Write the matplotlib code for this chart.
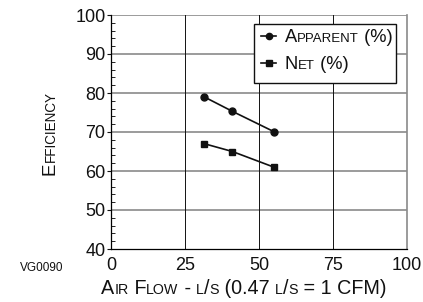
import matplotlib
matplotlib.use("Agg")
import matplotlib.pyplot as plt
from matplotlib.lines import Line2D
from matplotlib.patches import Rectangle

plt.rcParams['font.family'] = ['Liberation Sans', 'DejaVu Sans']

air_flow = [31.5, 41, 55]
apparent = [79, 75.3, 70.1]
net = [67, 65, 61]
x_ticks = [0, 25, 50, 75, 100]
y_ticks = [40, 50, 60, 70, 80, 90, 100]

W, H = 423, 302
fig = plt.figure(figsize=(W / 100, H / 100), dpi=100)
ax = fig.add_axes([111 / W, 1 - 249 / H, (407 - 111) / W, (249 - 15) / H])

ax.plot(air_flow, apparent, color='#111111', lw=1.2, marker='o', ms=5, zorder=3)
ax.plot(air_flow, net, color='#111111', lw=1.2, marker='s', ms=5, zorder=3)

ax.set_xlim(0, 100)
ax.set_ylim(40, 100)
ax.set_xticks(x_ticks)
ax.set_yticks(y_ticks)
ax.set_yticks(range(40, 101, 2), minor=True)
ax.tick_params(axis='both', labelsize=13, colors='#111111')
ax.tick_params(axis='x', length=0, pad=6)
ax.tick_params(axis='y', which='major', direction='out', length=3, pad=1)
ax.tick_params(axis='y', which='minor', direction='in', length=3, width=0.6)

for y in y_ticks[1:]:
    ax.axhline(y, color='#8a8a8a', lw=1.2, zorder=1)
for x in x_ticks[1:-1]:
    ax.axvline(x, color='#111111', lw=0.7, zorder=1)
ax.spines['top'].set_visible(False)
ax.spines['right'].set_color('#8a8a8a')
ax.spines['right'].set_linewidth(1.2)
ax.spines['left'].set_linewidth(0.9)
ax.spines['bottom'].set_linewidth(0.9)

fig.canvas.draw()
renderer = fig.canvas.get_renderer()


def smallcaps(s, x, y, size, ratio=0.72, rotation=0, ha='center', color='#111111'):
    runs = []
    for ch in s:
        small = ch.islower()
        c = ch.upper()
        if runs and runs[-1][1] == small:
            runs[-1][0] += c
        else:
            runs.append([c, small])
    texts = []
    for txt, small in runs:
        t = fig.text(0, 0, txt, fontsize=size * ratio if small else size,
                     rotation=rotation, rotation_mode='anchor',
                     ha='left', va='baseline', color=color, transform=None)
        texts.append(t)
    lens = []
    for t in texts:
        bb = t.get_window_extent(renderer)
        lens.append(bb.height if rotation == 90 else bb.width)
    total = sum(lens)
    start = {'center': -total / 2, 'left': 0, 'right': -total}[ha]
    pos = start
    for t, L in zip(texts, lens):
        if rotation == 90:
            t.set_position((x, y + pos))
        else:
            t.set_position((x + pos, y))
        pos += L


smallcaps("Air Flow - l/s (0.47 l/s = 1 CFM)", 244, H - 294, 14.2)
smallcaps("Efficiency", 55, H - 133, 13.5, rotation=90)
fig.text(20, H - 271, "VG0090", fontsize=8.5, transform=None, color='#111111')

# legend box
lx0, lx1, ly0, ly1 = 254, 396, 24, 83
fig.patches.append(Rectangle((lx0, H - ly1), lx1 - lx0, ly1 - ly0, transform=None,
                             facecolor='white', edgecolor='#111111', lw=1.0, zorder=5))
for yc, mk, label in [(36, 'o', "Apparent (%)"), (63, 's', "Net (%)")]:
    fig.lines.append(Line2D([261, 276], [H - yc, H - yc], transform=None, color='#111111',
                            lw=1.2, zorder=6))
    fig.lines.append(Line2D([268.5], [H - yc], transform=None, color='#111111',
                            marker=mk, ms=4.5, zorder=6))
    smallcaps(label, 285, H - yc - 6, 13.2, ha='left')
for t in fig.texts:
    t.set_zorder(7)

fig.savefig("out.png", dpi=100)
